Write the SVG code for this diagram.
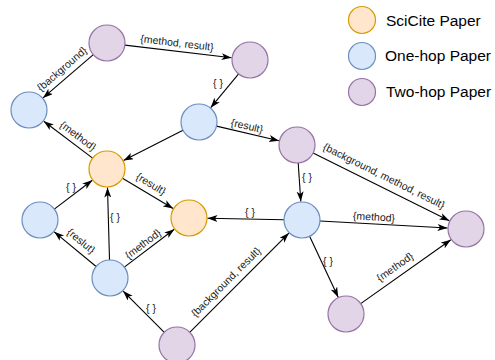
<svg xmlns="http://www.w3.org/2000/svg" width="495" height="360" viewBox="0 0 495 360">
<style>
.sci{fill:#ffe6cc;stroke:#d79b00;stroke-width:1.2}
.one{fill:#dae8fc;stroke:#6c8ebf;stroke-width:1.2}
.two{fill:#e1d5e7;stroke:#9673a6;stroke-width:1.2}
.e{stroke:#000;stroke-width:1.1;fill:none;marker-end:url(#arr)}
.lb{font-family:"Liberation Sans",Arial,sans-serif;font-size:10.5px;fill:#1a1a1a;text-anchor:middle}
.lg{font-family:"Liberation Sans",Arial,sans-serif;font-size:15.5px;fill:#000}
</style>
<defs>
<marker id="arr" markerUnits="userSpaceOnUse" markerWidth="11" markerHeight="8" refX="10" refY="3.5" orient="auto">
<path d="M0,0 L10,3.5 L0,7 L2.5,3.5 z" fill="#000"/>
</marker>
</defs>
<rect width="495" height="360" fill="#fff"/>
<g id="connectors">
<line class="e" x1="93.3" y1="54.7" x2="43.0" y2="97.9"/>
<line class="e" x1="124.9" y1="45.1" x2="231.6" y2="57.8"/>
<line class="e" x1="238.6" y1="73.9" x2="210.7" y2="107.7"/>
<line class="e" x1="183.0" y1="130.2" x2="123.5" y2="160.6"/>
<line class="e" x1="92.6" y1="158.1" x2="43.8" y2="121.2"/>
<line class="e" x1="216.5" y1="126.1" x2="279.0" y2="140.8"/>
<line class="e" x1="298.2" y1="163.0" x2="300.8" y2="201.5"/>
<line class="e" x1="313.1" y1="153.0" x2="449.4" y2="220.8"/>
<line class="e" x1="284" y1="219.7" x2="207.5" y2="218.3"/>
<line class="e" x1="320.0" y1="221.0" x2="447.5" y2="228.0"/>
<line class="e" x1="309.6" y1="236.3" x2="338.2" y2="297.2"/>
<line class="e" x1="360.7" y1="303.6" x2="450.9" y2="239.7"/>
<line class="e" x1="189.7" y1="332.3" x2="288.9" y2="233.1"/>
<line class="e" x1="164.3" y1="332.3" x2="123.1" y2="291.1"/>
<line class="e" x1="109.5" y1="260.0" x2="107.5" y2="187.5"/>
<line class="e" x1="96.1" y1="266.5" x2="54.2" y2="231.8"/>
<line class="e" x1="124.3" y1="267.1" x2="174.3" y2="229.2"/>
<line class="e" x1="54.3" y1="209.1" x2="92.3" y2="180.2"/>
<line class="e" x1="122.5" y1="178.2" x2="173.1" y2="208.5"/>
<g id="edge-labels">
<text class="lb" transform="translate(62,69) rotate(-40.7)" y="3.5">{background}</text>
<text class="lb" transform="translate(177,43) rotate(6.8)" y="3.5">{method, result}</text>
<text class="lb" x="218" y="86.5">{ }</text>
<text class="lb" transform="translate(78,136) rotate(37)" y="3.5">{method}</text>
<text class="lb" transform="translate(247,126) rotate(13.2)" y="3.5">{result}</text>
<text class="lb" x="307" y="180.5">{ }</text>
<text class="lb" transform="translate(384,176) rotate(26.4)" y="3.5">{background, method, result}</text>
<text class="lb" x="250" y="215.5">{ }</text>
<text class="lb" transform="translate(374,217) rotate(3.1)" y="3.5">{method}</text>
<text class="lb" x="328" y="264.5">{ }</text>
<text class="lb" transform="translate(395,267) rotate(-35.3)" y="3.5">{method}</text>
<text class="lb" transform="translate(226,282) rotate(-45)" y="3.5">{background, result}</text>
<text class="lb" x="151" y="311.5">{ }</text>
<text class="lb" x="115" y="220.5">{ }</text>
<text class="lb" transform="translate(81,241) rotate(39.6)" y="3.5">{reslut}</text>
<text class="lb" transform="translate(143,244) rotate(-37.2)" y="3.5">{method}</text>
<text class="lb" x="71" y="190.5">{ }</text>
<text class="lb" transform="translate(151,184) rotate(30.9)" y="3.5">{result}</text>
</g>
</g>
<g id="P1"><circle class="two" cx="107" cy="43" r="18"/></g>
<g id="P2"><circle class="two" cx="250" cy="60" r="18"/></g>
<g id="B1"><circle class="one" cx="29" cy="110" r="18"/></g>
<g id="B2"><circle class="one" cx="199" cy="122" r="18"/></g>
<g id="O1"><circle class="sci" cx="107" cy="169" r="18"/></g>
<g id="O2"><circle class="sci" cx="189" cy="218" r="18"/></g>
<g id="B3"><circle class="one" cx="40" cy="220" r="18"/></g>
<g id="B4"><circle class="one" cx="110" cy="278" r="18"/></g>
<g id="P3"><circle class="two" cx="177" cy="345" r="18"/></g>
<g id="P4"><circle class="two" cx="297" cy="145" r="18"/></g>
<g id="B5"><circle class="one" cx="302" cy="220" r="18"/></g>
<g id="P5"><circle class="two" cx="466" cy="229" r="18"/></g>
<g id="P6"><circle class="two" cx="346" cy="314" r="18"/></g>
<g id="legend">
<circle class="sci" cx="362" cy="20" r="13.5"/>
<text class="lg" x="386" y="26">SciCite Paper</text>
<circle class="one" cx="362" cy="56" r="13.5"/>
<text class="lg" x="385" y="61">One-hop Paper</text>
<circle class="two" cx="362" cy="92" r="13.5"/>
<text class="lg" x="386" y="97">Two-hop Paper</text>
</g>
</svg>
